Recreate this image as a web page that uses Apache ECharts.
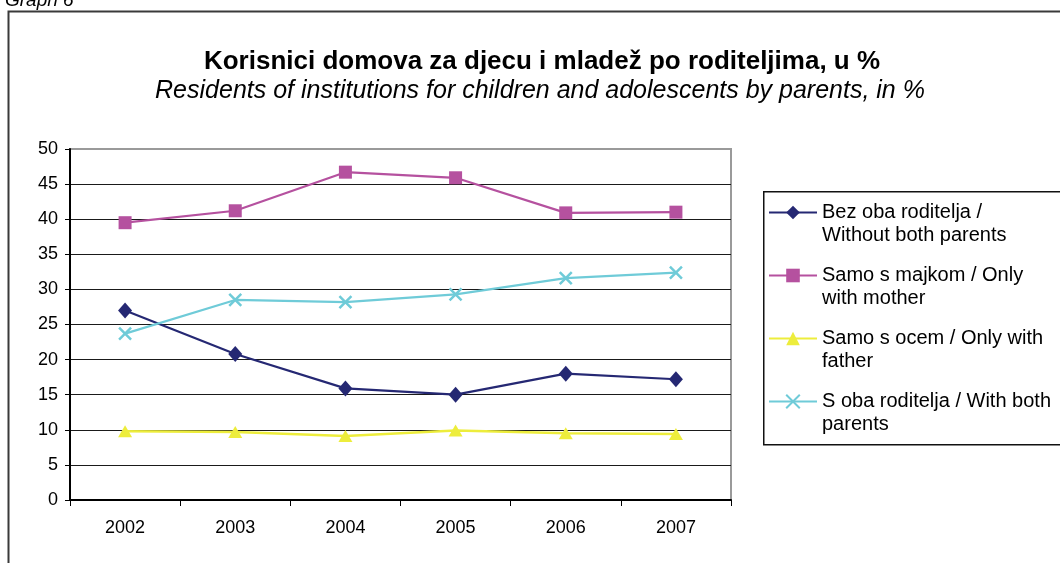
<!DOCTYPE html>
<html>
<head>
<meta charset="utf-8">
<script src="https://cdn.jsdelivr.net/npm/echarts@6/dist/echarts.min.js"></script>
<style>
html,body{margin:0;padding:0;background:#fff;}
#chart{width:1060px;height:563px;}
</style>
</head>
<body>
<div id="chart"></div>
<script>
var categories = ['2002', '2003', '2004', '2005', '2006', '2007'];
var seriesNames = [
  'Bez oba roditelja /\nWithout both parents',
  'Samo s majkom / Only\nwith mother',
  'Samo s ocem / Only with\nfather',
  'S oba roditelja / With both\nparents'
];
var withoutBoth = [27.0, 20.8, 15.9, 15.0, 18.0, 17.2];
var onlyMother  = [39.5, 41.2, 46.7, 45.9, 40.9, 41.0];
var onlyFather  = [9.8, 9.7, 9.1, 9.9, 9.5, 9.4];
var withBoth    = [23.7, 28.5, 28.2, 29.3, 31.6, 32.4];
var yTicks = [0, 50, 5];
var titleText = 'Korisnici domova za djecu i mladež po roditeljima, u %';
var subtitleText = 'Residents of institutions for children and adolescents by parents, in %';
var graphLabel = 'Graph 6';

var FONT = '"Liberation Sans", Arial, sans-serif';
var chart = echarts.init(document.getElementById('chart'), null, {renderer: 'canvas'});

var gridColors = [];
for (var v = yTicks[0]; v <= yTicks[1]; v += yTicks[2]) {
  gridColors.push(v === yTicks[1] ? '#9a9a9a' : '#1a1a1a');
}

var crossPath = 'path://M0,0L10,10M0,10L10,0';

var option = {
  backgroundColor: '#ffffff',
  animation: false,
  title: [
    {text: titleText, left: 537, top: 44, textAlign: 'center',
     textStyle: {fontFamily: FONT, fontSize: 26, fontWeight: 'bold', color: '#000'}},
    {text: subtitleText, left: 535, top: 74, textAlign: 'center',
     textStyle: {fontFamily: FONT, fontSize: 25, fontStyle: 'italic', fontWeight: 'normal', color: '#000'}},
    {text: graphLabel, left: 0, top: -14,
     textStyle: {fontFamily: FONT, fontSize: 19, fontStyle: 'italic', fontWeight: 'normal', color: '#000'}}
  ],
  graphic: [
    {type: 'rect', left: 6, top: 9, silent: true, z: -1,
     shape: {width: 1080, height: 620},
     style: {fill: 'none', stroke: '#3a3a3a', lineWidth: 2}},
    {type: 'rect', left: 763, top: 191, silent: true,
     shape: {width: 320, height: 253},
     style: {fill: '#fff', stroke: '#111', lineWidth: 1.5}}
  ],
  grid: {left: 70, right: 329, top: 149, bottom: 63, show: true,
         borderColor: '#9a9a9a', borderWidth: 2, backgroundColor: 'transparent'},
  legend: {
    orient: 'vertical', left: 768, top: 178, padding: 0,
    itemWidth: 48, itemHeight: 17, itemGap: -6,
    data: seriesNames,
    formatter: function (name) { return ' \n' + name; },
    textStyle: {fontFamily: FONT, fontSize: 20, color: '#000', lineHeight: 23},
    z: 10
  },
  xAxis: {
    type: 'category', data: categories, boundaryGap: true,
    axisLine: {lineStyle: {color: '#000', width: 2}},
    axisTick: {show: true, length: 6, lineStyle: {color: '#000', width: 1}},
    axisLabel: {fontFamily: FONT, fontSize: 18, color: '#000', margin: 19},
    splitLine: {show: false}
  },
  yAxis: {
    type: 'value', min: yTicks[0], max: yTicks[1], interval: yTicks[2],
    axisLine: {show: true, lineStyle: {color: '#000', width: 2}},
    axisTick: {show: true, length: 5, lineStyle: {color: '#000', width: 1}},
    axisLabel: {fontFamily: FONT, fontSize: 18, color: '#000', margin: 12},
    splitLine: {show: true, lineStyle: {color: gridColors, width: 1.2}}
  },
  series: [
    {name: seriesNames[0], type: 'line', data: withoutBoth,
     symbol: 'diamond', symbolSize: [14, 16],
     lineStyle: {color: '#252873', width: 2.2},
     itemStyle: {color: '#252873'}},
    {name: seriesNames[1], type: 'line', data: onlyMother,
     symbol: 'rect', symbolSize: 13,
     lineStyle: {color: '#B5519F', width: 2.2},
     itemStyle: {color: '#B5519F'}},
    {name: seriesNames[2], type: 'line', data: onlyFather,
     symbol: 'triangle', symbolSize: [14, 12],
     lineStyle: {color: '#EDED3C', width: 2.5},
     itemStyle: {color: '#EDED3C'}},
    {name: seriesNames[3], type: 'line', data: withBoth,
     symbol: crossPath, symbolSize: 12,
     lineStyle: {color: '#6FCBD8', width: 2.2},
     itemStyle: {color: '#6FCBD8', borderColor: '#6FCBD8', borderWidth: 2.5}}
  ]
};
chart.setOption(option);
</script>
</body>
</html>
